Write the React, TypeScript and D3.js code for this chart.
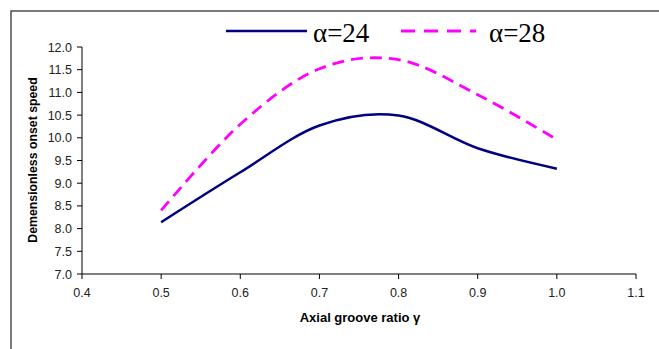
import React from "react";
import * as d3 from "d3";

const gammaValues = [0.5, 0.6, 0.7, 0.8, 0.9, 1.0];
const alpha24 = [8.14, 9.24, 10.27, 10.49, 9.77, 9.32];
const alpha28 = [8.4, 10.3, 11.52, 11.72, 10.95, 9.96];
const xTicks = [0.4, 0.5, 0.6, 0.7, 0.8, 0.9, 1.0, 1.1];
const yTicks = [7.0, 7.5, 8.0, 8.5, 9.0, 9.5, 10.0, 10.5, 11.0, 11.5, 12.0];
const seriesNames = ["α=24", "α=28"];

const W = 659;
const H = 349;

export default function App() {
  const x = d3.scaleLinear().domain([0.4, 1.1]).range([82, 636]);
  const y = d3.scaleLinear().domain([7, 12]).range([274, 47]);
  const line = d3
    .line<number>()
    .x((_, i) => x(gammaValues[i]))
    .y((d) => y(d))
    .curve(d3.curveCardinal.tension(0));

  const font = "Liberation Sans, Arial, sans-serif";

  return (
    <svg
      width={W}
      height={H}
      style={{ position: "absolute", left: 0, top: 0, background: "#fff" }}
    >
      <rect x={0} y={0} width={W} height={H} fill="#fff" />
      <rect x={11} y={11} width={W + 20} height={H + 20} fill="none" stroke="#333" strokeWidth={1.3} />

      {/* axes */}
      <line x1={x(0.4)} x2={x(1.1)} y1={y(7)} y2={y(7)} stroke="#000" strokeWidth={1} />
      <line x1={x(0.4)} x2={x(0.4)} y1={y(7)} y2={y(12)} stroke="#000" strokeWidth={1} />
      {yTicks.map((t) => (
        <g key={"y" + t}>
          <line x1={x(0.4) - 5} x2={x(0.4)} y1={y(t)} y2={y(t)} stroke="#000" />
          <text
            x={72}
            y={y(t)}
            dy="0.36em"
            textAnchor="end"
            fontFamily={font}
            fontSize={12.5}
            fill="#222"
          >
            {t.toFixed(1)}
          </text>
        </g>
      ))}
      {xTicks.map((t) => (
        <g key={"x" + t}>
          <line x1={x(t)} x2={x(t)} y1={y(7)} y2={y(7) + 5} stroke="#000" />
          <text
            x={x(t)}
            y={297}
            textAnchor="middle"
            fontFamily={font}
            fontSize={12.5}
            fill="#222"
          >
            {t.toFixed(1)}
          </text>
        </g>
      ))}

      <text
        x={360}
        y={322}
        textAnchor="middle"
        fontFamily={font}
        fontSize={13}
        fontWeight="bold"
        fill="#000"
      >
        Axial groove ratio γ
      </text>
      <text
        transform={`translate(37,160) rotate(-90)`}
        textAnchor="middle"
        fontFamily={font}
        fontSize={12.3}
        fontWeight="bold"
        fill="#000"
      >
        Demensionless onset speed
      </text>

      {/* series */}
      <path d={line(alpha24) || ""} fill="none" stroke="#000080" strokeWidth={2.5} />
      <path
        d={line(alpha28) || ""}
        fill="none"
        stroke="#ff00ff"
        strokeWidth={2.8}
        strokeDasharray="12,7"
      />

      {/* legend */}
      <line x1={226} x2={307} y1={31} y2={31} stroke="#000080" strokeWidth={2.5} />
      <text x={313} y={42} fontFamily="Liberation Serif, Times New Roman, serif" fontSize={27} fill="#000">
        {seriesNames[0]}
      </text>
      <line
        x1={401}
        x2={476}
        y1={31}
        y2={31}
        stroke="#ff00ff"
        strokeWidth={2.8}
        strokeDasharray="14,9"
      />
      <text x={489} y={42} fontFamily="Liberation Serif, Times New Roman, serif" fontSize={27} fill="#000">
        {seriesNames[1]}
      </text>
    </svg>
  );
}
